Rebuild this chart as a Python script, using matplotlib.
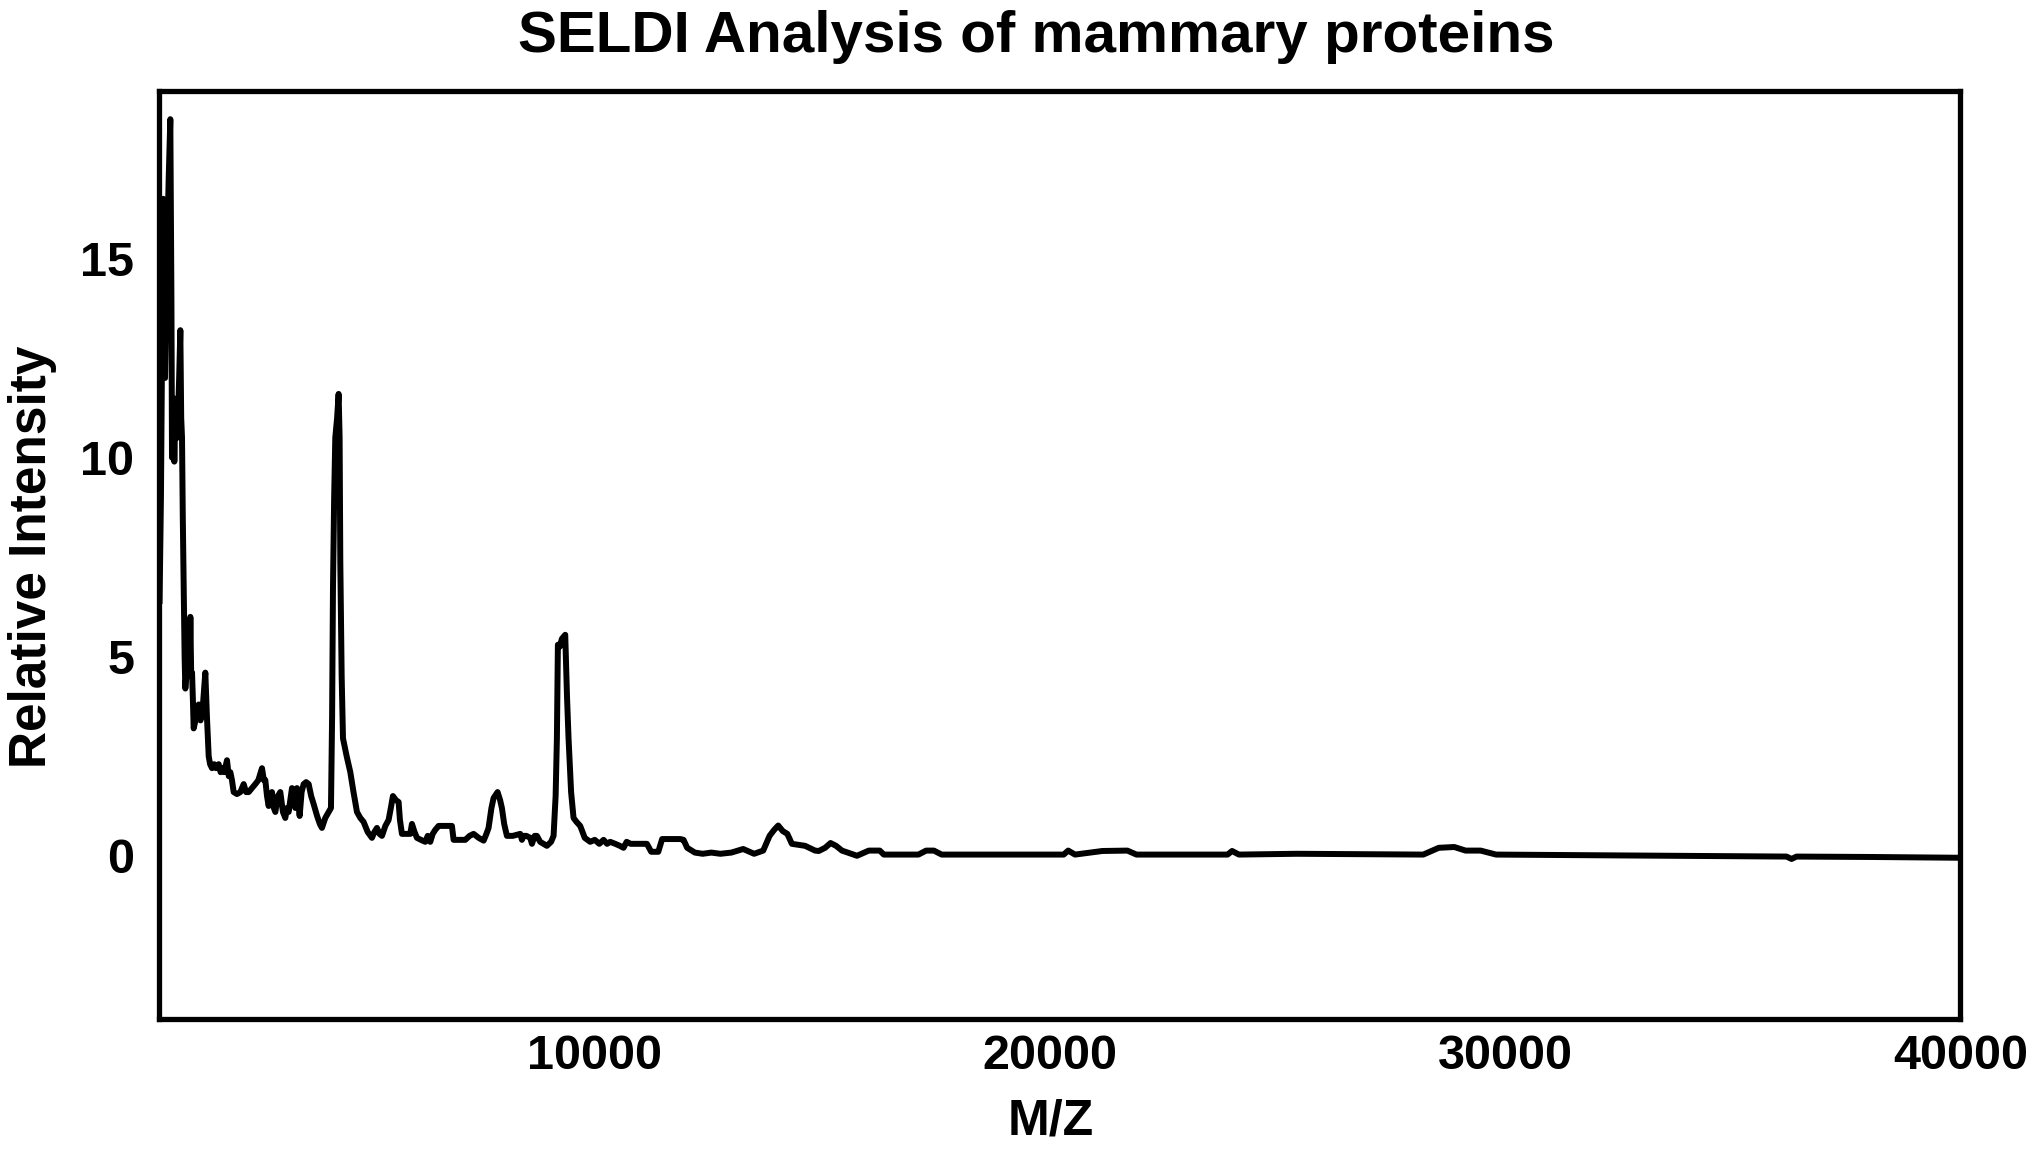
import matplotlib.pyplot as plt

# M/Z positions and relative intensities
mz = [440, 470, 490, 520, 560, 600, 640, 676, 700, 713, 740, 764, 787, 830, 870,
      896, 915, 933, 950, 970, 990, 1006, 1040, 1079, 1100, 1116, 1135, 1153, 1175,
      1189, 1230, 1270, 1299, 1340, 1380, 1420, 1445, 1480, 1519, 1550, 1592, 1640,
      1680, 1738, 1780, 1811, 1860, 1921, 1960, 1994, 2030, 2068, 2140, 2214, 2250,
      2287, 2340, 2397, 2470, 2543, 2610, 2690, 2730, 2763, 2800, 2836, 2870, 2909,
      2950, 2983, 3040, 3092, 3150, 3202, 3240, 3275, 3349, 3390, 3422, 3458, 3490,
      3517, 3560, 3605, 3660, 3715, 3770, 3824, 3900, 3960, 4007, 4080, 4154, 4205,
      4230, 4249, 4275, 4300, 4340, 4373, 4395, 4410, 4440, 4469, 4550, 4630, 4700,
      4776, 4850, 4922, 5010, 5105, 5160, 5215, 5270, 5325, 5400, 5471, 5520, 5566,
      5630, 5691, 5720, 5764, 5850, 5947, 5984, 6040, 6094, 6180, 6277, 6330, 6386,
      6440, 6496, 6570, 6643, 6760, 6862, 6899, 7030, 7155, 7250, 7338, 7450, 7558,
      7620, 7667, 7730, 7777, 7865, 7920, 7960, 8010, 8070, 8200, 8363, 8400, 8436,
      8500, 8582, 8620, 8680, 8729, 8800, 8948, 9040, 9095, 9140, 9168, 9190, 9230,
      9278, 9351, 9390, 9424, 9480, 9534, 9600, 9680, 9780, 9900, 10000, 10100,
      10193, 10270, 10339, 10450, 10550, 10632, 10700, 10790, 10950, 11145, 11240,
      11395, 11480, 11700, 11880, 11950, 12030, 12200, 12370, 12560, 12760, 13000,
      13260, 13400, 13500, 13700, 13840, 13940, 14030, 14130, 14230, 14330, 14620,
      14840, 14920, 15060, 15180, 15300, 15430, 15760, 16020, 16260, 16350, 17110,
      17280, 17450, 17620, 20300, 20400, 20550, 21150, 21700, 21900, 23900, 24000,
      24150, 25420, 28200, 28540, 28880, 29130, 29460, 29800, 33660, 36180, 36290,
      36400, 38000, 40000]
intensity = [6.4, 9.0, 12.1, 16.5, 12.0, 15.0, 17.0, 18.5, 14.0, 10.0, 11.5, 9.9, 11.2,
             10.5, 12.0, 13.2, 11.0, 10.5, 8.5, 6.7, 5.0, 4.2, 4.8, 5.8, 4.6, 6.0, 4.5,
             4.6, 3.8, 3.2, 3.4, 3.6, 3.8, 3.4, 3.6, 4.2, 4.6, 3.5, 2.5, 2.3, 2.2, 2.3,
             2.2, 2.3, 2.1, 2.2, 2.1, 2.4, 2.0, 2.1, 1.9, 1.6, 1.55, 1.6, 1.7, 1.8, 1.6,
             1.6, 1.7, 1.8, 1.9, 2.2, 1.9, 1.9, 1.5, 1.25, 1.5, 1.6, 1.2, 1.1, 1.5, 1.6,
             1.1, 0.95, 1.2, 1.1, 1.7, 1.3, 1.2, 1.7, 1.3, 1.0, 1.6, 1.8, 1.85, 1.8, 1.5,
             1.3, 1.0, 0.8, 0.7, 0.95, 1.1, 1.2, 3.5, 6.7, 9.0, 10.5, 11.0, 11.6, 10.5,
             7.4, 4.5, 2.95, 2.5, 2.1, 1.6, 1.1, 0.95, 0.85, 0.6, 0.45, 0.6, 0.7, 0.55,
             0.5, 0.75, 0.9, 1.2, 1.5, 1.4, 1.35, 0.9, 0.55, 0.55, 0.55, 0.8, 0.6, 0.45,
             0.4, 0.35, 0.5, 0.35, 0.55, 0.65, 0.75, 0.75, 0.75, 0.75, 0.4, 0.4, 0.4,
             0.5, 0.55, 0.45, 0.38, 0.55, 0.7, 1.2, 1.45, 1.6, 1.4, 1.2, 0.8, 0.5, 0.5,
             0.55, 0.4, 0.5, 0.5, 0.45, 0.3, 0.5, 0.5, 0.35, 0.25, 0.35, 0.5, 1.5, 2.95,
             5.3, 5.25, 5.45, 5.55, 4.0, 2.95, 1.6, 0.95, 0.85, 0.75, 0.45, 0.35, 0.4,
             0.3, 0.4, 0.3, 0.35, 0.3, 0.25, 0.2, 0.35, 0.3, 0.3, 0.3, 0.1, 0.1, 0.42,
             0.42, 0.42, 0.4, 0.2, 0.08, 0.05, 0.08, 0.05, 0.08, 0.17, 0.1, 0.05, 0.13,
             0.5, 0.65, 0.76, 0.62, 0.55, 0.3, 0.25, 0.13, 0.12, 0.2, 0.32, 0.25, 0.13,
             0.0, 0.13, 0.13, 0.03, 0.03, 0.13, 0.13, 0.03, 0.03, 0.13, 0.03, 0.12, 0.13,
             0.03, 0.03, 0.12, 0.03, 0.05, 0.03, 0.2, 0.22, 0.13, 0.13, 0.03, 0.0, -0.02,
             -0.08, -0.02, -0.03, -0.05]

xticks = [10000, 20000, 30000, 40000]
yticks = [0, 5, 10, 15]

plt.rcParams['font.family'] = ['Liberation Sans', 'DejaVu Sans']
plt.rcParams['font.weight'] = 'bold'

fig = plt.figure(figsize=(20.4, 11.56), dpi=100)
ax = fig.add_axes([0.078, 0.1185, 0.883, 0.8025])

ax.plot(mz, intensity, color='black', linewidth=4.3, solid_joinstyle='round')

ax.set_xlim(430, 40000)
ax.set_ylim(-4.1, 19.2)
ax.set_xticks(xticks)
ax.set_yticks(yticks)
ax.tick_params(axis='both', length=0, labelsize=35)
ax.tick_params(axis='x', pad=11)
ax.tick_params(axis='y', pad=18)

for side in ax.spines.values():
    side.set_linewidth(3.8)

fig.text(0.508, 0.968, 'SELDI Analysis of mammary proteins', ha='center', va='center',
         fontsize=42, fontweight='bold')
fig.text(0.515, 0.03, 'M/Z', ha='center', va='center', fontsize=36, fontweight='bold')
fig.text(0.016, 0.518, 'Relative Intensity', ha='center', va='center', rotation=90,
         fontsize=37, fontweight='bold')

fig.savefig('out.png', dpi=100)
